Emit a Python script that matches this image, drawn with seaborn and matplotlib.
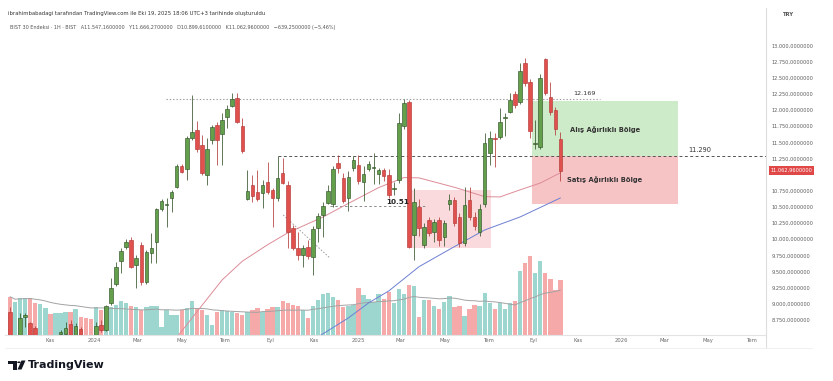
import numpy as np
import pandas as pd
import matplotlib
matplotlib.use("Agg")
import matplotlib.pyplot as plt
import seaborn as sns
from matplotlib.patches import Rectangle, Circle, Polygon
from matplotlib.lines import Line2D
from matplotlib.transforms import blended_transform_factory

# ---------------- data (weekly BIST 30) ----------------
start_week = "2023-09-11"

opens = [8880, 8420, 8470, 8800, 8700, 8622, 8400, 8450, 8480, 8300,
         8530, 8529, 8684, 8500, 8607, 8500, 8420, 8480, 8673, 8600,
         9009, 9304, 9664, 9876, 9989, 9602, 9912, 9344, 9793, 9953,
         10469, 10530, 10635, 10815, 11140, 11088, 11573, 11692, 11460, 10995,
         11537, 11770, 11625, 11898, 12068, 12190, 11758, 10624, 10840, 10727,
         10712, 10880, 10760, 10645, 11022, 10840, 10170, 9870, 9757, 9885,
         9730, 10180, 10376, 10557, 10542, 11176, 10954, 10635, 11108, 11150,
         10890, 11088, 11110, 11005, 11073, 10995, 10780, 10918, 11758, 12130,
         10067, 10505, 9912, 10299, 10118, 10299, 10040, 10546, 10608, 10350,
         9938, 10608, 10350, 10118, 10546, 11331, 11573, 11588, 11873, 11975,
         12249, 12130, 12724, 12440, 11470, 11433, 12786, 12198, 12002, 11547.16]

highs = [8950, 8500, 8860, 8860, 8720, 8650, 8510, 8515, 8510, 8500,
         8600, 8715, 8751, 8700, 8640, 8515, 8500, 8724, 8751, 8990,
         9396, 9653, 9870, 10005, 10030, 9757, 9950, 9830, 10093, 10490,
         10620, 10635, 10760, 11160, 11165, 11600, 12230, 11830, 11614, 11563,
         11770, 11820, 11950, 12080, 12260, 12270, 11873, 11073, 10995, 11073,
         10920, 11190, 10800, 11294, 11254, 10900, 10220, 10118, 9910, 9990,
         10200, 10410, 10570, 10840, 11140, 11300, 11020, 11050, 11290, 11300,
         11140, 11210, 11330, 11100, 11110, 11080, 10880, 11950, 12170, 12156,
         10790, 10620, 10250, 10350, 10320, 10350, 10300, 10700, 10650, 10400,
         10814, 10814, 10420, 10550, 11640, 11680, 11650, 12030, 11950, 12260,
         12300, 12724, 12800, 12480, 11850, 12560, 12810, 12440, 12050, 11666.27]

lows = [8400, 8250, 8400, 8645, 8420, 8380, 8300, 8250, 8200, 8250,
        8400, 8480, 8420, 8450, 8400, 8350, 8300, 8420, 8560, 8580,
        8990, 9280, 9474, 9850, 9550, 9241, 9290, 9300, 9630, 9630,
        10440, 10195, 10427, 10790, 11030, 10918, 11540, 11356, 10995, 10840,
        11480, 11150, 11150, 11718, 12040, 11800, 11330, 10610, 10580, 10600,
        10480, 10700, 10195, 10600, 10850, 9860, 9830, 9680, 9575, 9700,
        9447, 9960, 10030, 10540, 10500, 11020, 10560, 10440, 11050, 10850,
        10590, 11050, 10850, 10850, 10900, 10640, 10680, 10870, 11700, 9860,
        9680, 10050, 9860, 10050, 9950, 9900, 9900, 10450, 10200, 9880,
        9900, 10300, 10150, 10050, 10500, 11150, 11124, 11550, 11600, 11950,
        12030, 12100, 12380, 11563, 11400, 11400, 12240, 11930, 11620, 10899.61]

closes = [8480, 8470, 8782, 8830, 8500, 8480, 8480, 8500, 8300, 8450,
          8570, 8632, 8500, 8663, 8510, 8420, 8380, 8653, 8600, 8963,
          9241, 9576, 9819, 9963, 9576, 9706, 9344, 9808, 9860, 10469,
          10593, 10550, 10727, 11140, 11047, 11563, 11656, 11398, 11022, 11398,
          11743, 11537, 11847, 12017, 12172, 11820, 11367, 10748, 10675, 10624,
          10840, 10727, 10645, 10955, 10867, 10118, 9870, 9757, 9860, 9745,
          10160, 10360, 10520, 10748, 11088, 11100, 10593, 10970, 11230, 10900,
          11005, 11160, 11120, 11073, 10985, 10685, 10800, 11796, 12105, 9885,
          10573, 10180, 10195, 10093, 10273, 9989, 10248, 10608, 10248, 9938,
          10531, 10350, 10206, 10464, 11486, 11563, 11548, 11820, 11898, 12156,
          12079, 12610, 12415, 11681, 11480, 12492, 12260, 11975, 11702, 11062.96]

volumes = [383, 333, 367, 373, 367, 323, 310, 267, 210, 223,
           223, 233, 233, 257, 177, 167, 157, 283, 250, 283,
           283, 300, 343, 323, 290, 277, 250, 277, 290, 290,
           77, 250, 200, 197, 250, 267, 340, 267, 250, 200,
           100, 233, 250, 243, 233, 223, 200, 233, 250, 267,
           233, 257, 277, 283, 340, 323, 300, 290, 250, 167,
           290, 350, 410, 417, 377, 350, 283, 290, 300, 467,
           397, 357, 333, 407, 357, 433, 323, 457, 410, 500,
           490, 183, 350, 350, 290, 257, 333, 390, 283, 290,
           190, 257, 300, 290, 423, 323, 257, 323, 257, 323,
           343, 643, 717, 790, 617, 740, 617, 557, 450, 550]

# moving averages (week index -> value)
ma50_week = [32, 38, 42, 46, 51, 55, 62, 67, 73, 78, 81, 88, 94, 97, 101, 105, 109]
ma50_vals = [8380, 8975, 9370, 9660, 9915, 10100, 10345, 10555, 10800, 10955,
             10950, 10805, 10660, 10655, 10765, 10870, 11030]
ma100_week = [60, 67, 71, 75, 81, 88, 94, 101, 109]
ma100_vals = [8440, 8782, 9014, 9200, 9576, 9886, 10144, 10345, 10640]

# price scale labels (11.000 is hidden behind the last-price tag)
price_ticks = [8750, 9000, 9250, 9500, 9750, 10000, 10250, 10500, 10750,
               11250, 11500, 11750, 12000, 12250, 12500, 12750, 13000]
month_labels = ["Kas", "2024", "Mar", "May", "Tem", "Eyl", "Kas", "2025", "Mar",
                "May", "Tem", "Eyl", "Kas", "2026", "Mar", "May", "Tem"]
month_dates = ["2023-11-01", "2024-01-01", "2024-03-01", "2024-05-01", "2024-07-01",
               "2024-09-01", "2024-11-01", "2025-01-01", "2025-03-01", "2025-05-01",
               "2025-07-01", "2025-09-01", "2025-11-01", "2026-01-01", "2026-03-01",
               "2026-05-01", "2026-07-01"]

level_top = 12169
level_mid = 11290
level_low = 10515
buy_zone = (11290, 12140)
sell_zone = (10546, 11290)
consol_zone = (9860, 10760)
last_price = 11062.96

# ---------------- build frame ----------------
n = len(opens)
df = pd.DataFrame({
    "week": np.arange(n),
    "date": pd.date_range(start_week, periods=n, freq="7D"),
    "open": opens, "high": highs, "low": lows, "close": closes, "volume": volumes,
})
df["dir"] = np.where(df["close"] >= df["open"], "up", "down")
df["vol_ma"] = df["volume"].rolling(20, min_periods=1).mean()

sns.set_style("white")
plt.rcParams["font.family"] = ["DejaVu Sans"]

W, H = 833, 381
fig = plt.figure(figsize=(W / 100, H / 100), dpi=100)
def fx(px): return px / W
def fy(py): return 1 - py / H

ax = fig.add_axes([fx(5), fy(335), fx(766) - fx(5), fy(8) - fy(335)])
axv = ax.twinx()
ax.set_zorder(2)
ax.patch.set_visible(False)
axv.set_zorder(1)

XMIN, XMAX = -0.99, 149.7
YMIN, YMAX = 8518, 13580

# ---------------- volume ----------------
sns.barplot(data=df, x="week", y="volume", hue="dir", native_scale=True,
            palette={"up": "#9cd6cf", "down": "#f5aaa9"}, dodge=False,
            width=0.86, saturation=1, errorbar=None, legend=False, ax=axv,
            linewidth=0)
sns.lineplot(data=df, x="week", y="vol_ma", color="#a3a3a3", lw=0.7, ax=axv)
axv.set_ylim(0, 3270)
axv.set_xlim(XMIN, XMAX)
axv.set_axis_off()

# ---------------- zones & levels ----------------
ax.add_patch(Rectangle((103.3, buy_zone[0]), 29.0, buy_zone[1] - buy_zone[0],
                       facecolor="#cdebc8", edgecolor="none", zorder=0.5))
ax.add_patch(Rectangle((103.3, sell_zone[0]), 29.0, sell_zone[1] - sell_zone[0],
                       facecolor="#f7c4c6", edgecolor="none", zorder=0.5))
ax.add_patch(Rectangle((79.2, consol_zone[0]), 16.0, consol_zone[1] - consol_zone[0],
                       facecolor="#fadadd", edgecolor="none", zorder=0.5))

ax.plot([30.9, 116.8], [level_top, level_top], color="#9a9a9a", lw=0.8,
        ls=(0, (1.2, 1.8)), zorder=1)
ax.plot([53.1, XMAX], [level_mid, level_mid], color="#555555", lw=0.7,
        ls=(0, (3, 2.5)), zorder=1)
ax.plot([63.4, 82.2], [level_low, level_low], color="#8a8a8a", lw=0.7,
        ls=(0, (2.5, 2.5)), zorder=1)
ax.plot([54.1, 63.4], [10376, 9706], color="#9a9a9a", lw=0.7,
        ls=(0, (1.5, 1.8)), zorder=1)

ax.text(113.7, level_top + 45, "12.169", fontsize=4.6, color="#333333",
        ha="center", va="bottom", zorder=5)
ax.text(136.6, level_mid + 45, "11.290", fontsize=4.8, color="#333333",
        ha="center", va="bottom", zorder=5)
ax.text(76.8, level_low + 20, "10.51", fontsize=5.2, color="#222222",
        ha="center", va="bottom", fontweight="bold", zorder=5)
ax.text(117.8, 11703, "Alış Ağırlıklı Bölge", fontsize=4.9, color="#333333",
        ha="center", va="center", fontweight="semibold", zorder=5)
ax.text(117.8, 10929, "Satış Ağırlıklı Bölge", fontsize=4.9, color="#333333",
        ha="center", va="center", fontweight="semibold", zorder=5)

# ---------------- moving averages ----------------
sns.lineplot(x=ma50_week, y=ma50_vals, color="#dc8c98", lw=0.7, ax=ax, zorder=2)
sns.lineplot(x=ma100_week, y=ma100_vals, color="#6d7fd2", lw=0.7, ax=ax, zorder=2)

# ---------------- candles ----------------
up = df["dir"] == "up"
face = np.where(up, "#64a04c", "#e0504d")
edge = np.where(up, "#34542a", "#b33a37")
body_lo = np.minimum(df["open"], df["close"])
body_h = np.maximum(np.abs(df["close"] - df["open"]), 14)
ax.vlines(df["week"], df["low"], df["high"], colors=edge, lw=0.55, zorder=3)
ax.bar(df["week"], body_h, bottom=body_lo, width=0.7, color=face,
       edgecolor=edge, linewidth=0.45, zorder=4)

ax.set_xlim(XMIN, XMAX)
ax.set_ylim(YMIN, YMAX)

# ---------------- axes styling ----------------
start = pd.Timestamp(start_week)
tick_pos = [(pd.Timestamp(d) - start).days / 7 + 0.7 for d in month_dates]
ax.set_xticks(tick_pos)
ax.set_xticklabels(month_labels)
ax.tick_params(axis="x", length=0, pad=2.5, labelsize=3.8, labelcolor="#6b6b6b")

ax.yaxis.tick_right()
ax.set_yticks(price_ticks)
ax.set_yticklabels([f"{v:,.7f}".replace(",", "X").replace(".", ",").replace("X", ".")
                    for v in price_ticks])
ax.tick_params(axis="y", length=0, pad=4, labelsize=3.6, labelcolor="#5a5a5a")
ax.set_xlabel("")
ax.set_ylabel("")
for s in ["top", "left"]:
    ax.spines[s].set_visible(False)
ax.spines["right"].set_color("#dedede")
ax.spines["bottom"].set_color("#e3e3e3")
ax.spines["right"].set_linewidth(0.8)
ax.spines["bottom"].set_linewidth(0.8)

tr = blended_transform_factory(ax.transAxes, ax.transData)
lbl = f"{last_price:,.7f}".replace(",", "X").replace(".", ",").replace("X", ".")
ax.text(1.006, last_price, lbl, transform=tr, fontsize=3.6, color="white",
        va="center", ha="left", zorder=6, clip_on=False,
        bbox=dict(boxstyle="square,pad=0.35", fc="#e04848", ec="none"))

fig.add_artist(Line2D([fx(766), fx(766)], [fy(335), fy(348)],
                      color="#dedede", lw=0.8, transform=fig.transFigure))
fig.add_artist(Line2D([fx(5), fx(812)], [fy(348), fy(348)],
                      color="#ececec", lw=0.6, transform=fig.transFigure))

# ---------------- header texts ----------------
fig.text(fx(8), fy(13), "ibrahimbabadagi tarafından TradingView.com ile Eki 19, 2025 18:06 UTC+3 tarihinde oluşturuldu",
         fontsize=3.8, color="#333333", va="center", ha="left")
fig.text(fx(10), fy(28),
         "BIST 30 Endeksi · 1H · BIST   A11.547,1600000   Y11.666,2700000   D10.899,6100000   K11.062,9600000   −639,2500000 (−5,46%)",
         fontsize=3.5, color="#555555", va="center", ha="left")
fig.text(fx(788), fy(15), "TRY", fontsize=3.8, color="#555555", va="center",
         ha="center", fontweight="semibold")

# ---------------- TradingView logo ----------------
logo_c = "#131722"
def P(x, y): return (fx(x), fy(y))
fig.add_artist(Polygon([P(8, 360.5), P(16.5, 360.5), P(16.5, 369.5), P(12.5, 369.5),
                        P(12.5, 364), P(8, 364)], closed=True, fc=logo_c, ec="none",
                       transform=fig.transFigure))
fig.add_artist(Circle(P(19, 362.3), 1.8 / W, fc=logo_c, ec="none",
                      transform=fig.transFigure))
fig.add_artist(Polygon([P(21.5, 360.5), P(25.5, 360.5), P(21.5, 369.5), P(17.5, 369.5)],
                       closed=True, fc=logo_c, ec="none", transform=fig.transFigure))
fig.text(fx(28), fy(365), "TradingView", fontsize=8, fontweight="bold",
         color=logo_c, va="center", ha="left")

fig.savefig("out.png", dpi=100)
